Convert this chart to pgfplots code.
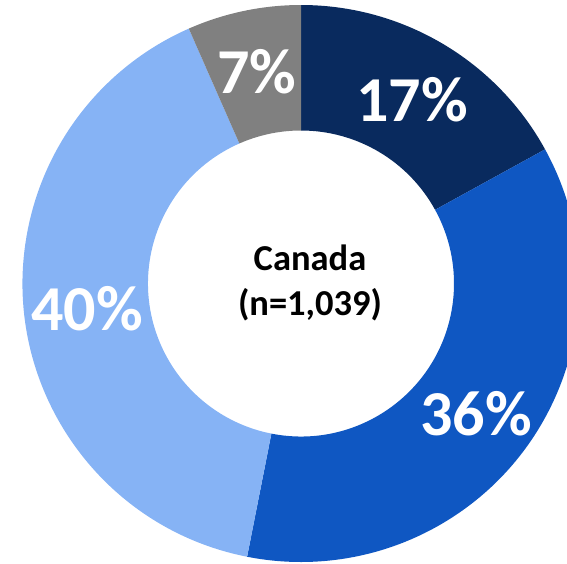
\documentclass[border=0pt]{standalone}
\usepackage{fontspec}
\setmainfont{Carlito}
\usepackage{pgfplots}
\usepackage{pgfplotstable}
\pgfplotsset{compat=1.18}
\definecolor{cNavy}{RGB}{9,42,94}
\definecolor{cBlue}{RGB}{15,87,194}
\definecolor{cLight}{RGB}{134,179,245}
\definecolor{cGrey}{RGB}{128,128,128}
\pgfplotstableread{
value
17.0
36.1
40.3
6.6
}\donutdata
\pgfplotstablegetelem{0}{value}\of\donutdata \let\vA\pgfplotsretval
\pgfplotstablegetelem{1}{value}\of\donutdata \let\vB\pgfplotsretval
\pgfplotstablegetelem{2}{value}\of\donutdata \let\vC\pgfplotsretval
\pgfplotstablegetelem{3}{value}\of\donutdata \let\vD\pgfplotsretval
\pgfmathsetmacro{\aZ}{90}
\pgfmathsetmacro{\aA}{\aZ-3.6*\vA}
\pgfmathsetmacro{\aB}{\aA-3.6*\vB}
\pgfmathsetmacro{\aC}{\aB-3.6*\vC}
\pgfmathsetmacro{\aD}{\aC-3.6*\vD}
\pgfmathsetmacro{\bA}{\aA+180}
\pgfmathsetmacro{\bB}{\aB+180}
\pgfmathsetmacro{\bC}{\aC+180}
\pgfmathsetmacro{\bD}{\aD+180}
\def\Ro{111.4pt}
\def\Ri{61.2pt}
\def\dR{50.2pt}
\newcommand{\slice}[4]{% color, start, end, back
  \fill[#1] (axis cs:301,279.5) ++(#2:\Ro) arc[start angle=#2, end angle=#3, radius=\Ro] -- ++(#4:\dR) arc[start angle=#3, end angle=#2, radius=\Ri] -- cycle;}
\begin{document}
\begin{tikzpicture}
\begin{axis}[
  scale only axis, width=226.8pt, height=225.2pt,
  xmin=0, xmax=567, ymin=0, ymax=563,
  hide axis, clip mode=global,
]
\slice{cNavy}{\aZ}{\aA}{\bA}
\slice{cBlue}{\aA}{\aB}{\bB}
\slice{cLight}{\aB}{\aC}{\bC}
\slice{cGrey}{\aC}{\aD}{\bD}
\node[white, font=\fontsize{25.6}{30}\selectfont\bfseries] at (axis cs:412,463) {17\%};
\node[white, font=\fontsize{25.6}{30}\selectfont\bfseries] at (axis cs:476,149) {36\%};
\node[white, font=\fontsize{25.6}{30}\selectfont\bfseries] at (axis cs:87,254) {40\%};
\node[white, font=\fontsize{25.6}{30}\selectfont\bfseries] at (axis cs:257,491) {7\%};
\node[black, align=center, font=\fontsize{14.6}{18.2}\selectfont\bfseries] at (axis cs:310,280) {Canada\\(n=1,039)};
\end{axis}
\pgfresetboundingbox
\useasboundingbox (current axis.south west) rectangle (current axis.north east);
\end{tikzpicture}
\end{document}
